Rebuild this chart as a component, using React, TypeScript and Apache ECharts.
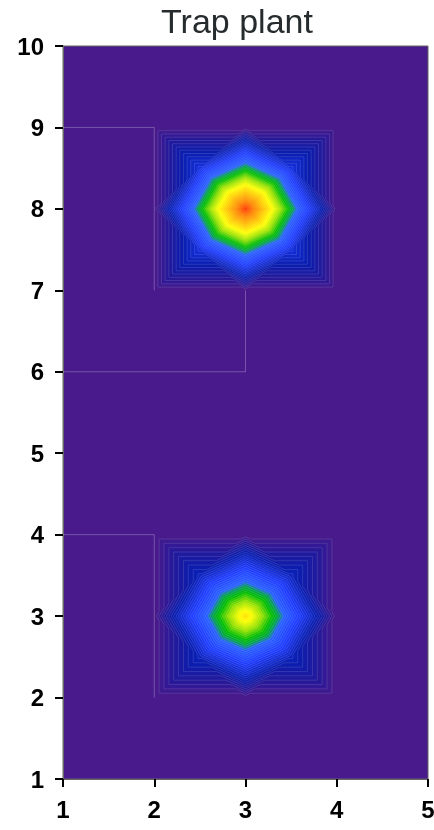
import React, { useEffect, useRef } from "react";
import * as echarts from "echarts";

// ---- data ----
const chartTitle = "Trap plant";
const xValues = [1, 2, 3, 4, 5];
const yValues = [1, 2, 3, 4, 5, 6, 7, 8, 9, 10];
// rows follow yValues (y = 1 .. 10), columns follow xValues
const zValues = [
  [0, 0, 0, 0, 0],
  [0, 0, 0, 0, 0],
  [0, 0, 75, 0, 0],
  [0, 0, 0, 0, 0],
  [0, 0, 0, 0, 0],
  [0, 0, 0, 0, 0],
  [0, 0, 0, 0, 0],
  [0, 0, 100, 0, 0],
  [0, 0, 0, 0, 0],
  [0, 0, 0, 0, 0],
];
const levelStep = 2;
const levelMax = 100;
// zero-level contour traces seen in the picture
const zeroLevelTraces = [
  [[1, 9], [2, 9], [2, 7]],
  [[1, 6], [3, 6], [3, 7]],
  [[1, 4], [2, 4], [2, 2]],
];

// ---- styles ----
const colorStops: [number, number[]][] = [
  [0.0, [72, 26, 140]],
  [0.07, [35, 25, 155]],
  [0.15, [10, 30, 175]],
  [0.3, [30, 60, 255]],
  [0.42, [40, 95, 255]],
  [0.47, [0, 165, 70]],
  [0.52, [0, 190, 0]],
  [0.6, [150, 225, 0]],
  [0.69, [255, 255, 0]],
  [0.8, [255, 190, 0]],
  [0.9, [255, 130, 0]],
  [1.0, [255, 50, 0]],
];

function cmap(t: number): string {
  t = Math.max(0, Math.min(1, t));
  for (let i = 1; i < colorStops.length; i++) {
    const [t1, c1] = colorStops[i];
    const [t0, c0] = colorStops[i - 1];
    if (t <= t1) {
      const u = (t - t0) / (t1 - t0);
      const c = c0.map((v, k) => Math.round(v + (c1[k] - v) * u));
      return `rgb(${c[0]},${c[1]},${c[2]})`;
    }
  }
  const c = colorStops[colorStops.length - 1][1];
  return `rgb(${c[0]},${c[1]},${c[2]})`;
}

type V = [number, number, number];

function buildTriangles(): V[][] {
  const tris: V[][] = [];
  for (let j = 0; j < yValues.length - 1; j++) {
    for (let i = 0; i < xValues.length - 1; i++) {
      const x0 = xValues[i], x1 = xValues[i + 1];
      const y0 = yValues[j], y1 = yValues[j + 1];
      const a: V = [x0, y0, zValues[j][i]];
      const b: V = [x1, y0, zValues[j][i + 1]];
      const c: V = [x1, y1, zValues[j + 1][i + 1]];
      const d: V = [x0, y1, zValues[j + 1][i]];
      const m: V = [(x0 + x1) / 2, (y0 + y1) / 2, (a[2] + b[2] + c[2] + d[2]) / 4];
      tris.push([a, b, m], [b, c, m], [c, d, m], [d, a, m]);
    }
  }
  return tris;
}

function clipAbove(poly: V[], L: number): V[] {
  const out: V[] = [];
  for (let k = 0; k < poly.length; k++) {
    const P = poly[k];
    const Q = poly[(k + 1) % poly.length];
    const pin = P[2] >= L;
    const qin = Q[2] >= L;
    if (pin) out.push(P);
    if (pin !== qin) {
      const t = (L - P[2]) / (Q[2] - P[2]);
      out.push([P[0] + (Q[0] - P[0]) * t, P[1] + (Q[1] - P[1]) * t, L]);
    }
  }
  return out;
}

function buildContours() {
  const tris = buildTriangles();
  const fills: { pts: number[][]; color: string }[] = [];
  const lines: { pts: number[][] }[] = [];
  for (let L = levelStep; L <= levelMax; L += levelStep) {
    const color = cmap(L / levelMax);
    for (const tri of tris) {
      const mx = Math.max(tri[0][2], tri[1][2], tri[2][2]);
      const mn = Math.min(tri[0][2], tri[1][2], tri[2][2]);
      if (mx < L) continue;
      const poly = mn >= L ? tri : clipAbove(tri, L);
      if (poly.length >= 3) {
        fills.push({ pts: poly.map((p) => [p[0], p[1]]), color });
      }
      if (mn < L && mx > L) {
        const seg: number[][] = [];
        for (let k = 0; k < 3; k++) {
          const P = tri[k];
          const Q = tri[(k + 1) % 3];
          if ((P[2] - L) * (Q[2] - L) < 0) {
            const t = (L - P[2]) / (Q[2] - P[2]);
            seg.push([P[0] + (Q[0] - P[0]) * t, P[1] + (Q[1] - P[1]) * t]);
          }
        }
        if (seg.length === 2) lines.push({ pts: seg });
      }
    }
  }
  return { fills, lines };
}

const labelStyle = {
  fontSize: 24,
  fontWeight: "bold" as const,
  color: "#000",
  fontFamily: "Liberation Sans, Arial, sans-serif",
};

export default function App() {
  const ref = useRef<HTMLDivElement>(null);
  useEffect(() => {
    if (!ref.current) return;
    const chart = echarts.init(ref.current, undefined, { renderer: "svg" });
    const { fills, lines } = buildContours();
    const option: any = {
      animation: false,
      graphic: [
        {
          type: "text",
          x: 237,
          y: 4,
          style: {
            text: chartTitle,
            font: "34px 'Liberation Sans', Arial, sans-serif",
            fill: "#262b2e",
            textAlign: "center",
            textVerticalAlign: "top",
          },
        },
      ],
      grid: {
        left: 63,
        right: 6,
        top: 46,
        bottom: 51,
        outerBoundsMode: "none",
        containLabel: false,
        show: true,
        backgroundColor: cmap(0),
        borderColor: "#666",
        borderWidth: 1,
        z: 0,
      },
      xAxis: {
        type: "value",
        min: 1,
        max: 5,
        interval: 1,
        axisLine: { show: true, onZero: false, lineStyle: { color: "#666", width: 1 } },
        axisTick: { show: true, length: 8, lineStyle: { color: "#000", width: 2 } },
        axisLabel: { ...labelStyle, margin: 18 },
        splitLine: { show: false },
      },
      yAxis: {
        type: "value",
        min: 1,
        max: 10,
        interval: 1,
        axisLine: { show: true, onZero: false, lineStyle: { color: "#666", width: 1 } },
        axisTick: { show: true, length: 8, lineStyle: { color: "#000", width: 2 } },
        axisLabel: { ...labelStyle, margin: 19 },
        splitLine: { show: false },
      },
      series: [
        {
          type: "custom",
          name: "fill",
          clip: true,
          silent: true,
          data: fills.map((f) => [f.pts[0][0], f.pts[0][1]]),
          encode: { x: 0, y: 1 },
          renderItem: (params: any, api: any) => {
            const f = fills[params.dataIndex];
            return {
              type: "polygon",
              shape: { points: f.pts.map((p) => api.coord(p)) },
              style: { fill: f.color, stroke: f.color, lineWidth: 0.3 },
            };
          },
          z: 2,
        },
        {
          type: "custom",
          name: "lines",
          clip: true,
          silent: true,
          data: lines.map((l) => [l.pts[0][0], l.pts[0][1]]),
          encode: { x: 0, y: 1 },
          renderItem: (params: any, api: any) => {
            const l = lines[params.dataIndex];
            const a = api.coord(l.pts[0]);
            const b = api.coord(l.pts[1]);
            return {
              type: "line",
              shape: { x1: a[0], y1: a[1], x2: b[0], y2: b[1] },
              style: { stroke: "rgba(255,255,255,0.22)", lineWidth: 0.6 },
            };
          },
          z: 3,
        },
        ...zeroLevelTraces.map((tr) => ({
          type: "line",
          data: tr,
          symbol: "none",
          silent: true,
          lineStyle: { color: "rgba(255,255,255,0.25)", width: 1 },
          z: 3,
        })),
      ],
    };
    chart.setOption(option);
    return () => chart.dispose();
  }, []);
  return (
    <div
      ref={ref}
      style={{ position: "fixed", left: 0, top: 0, width: 434, height: 830 }}
    />
  );
}
